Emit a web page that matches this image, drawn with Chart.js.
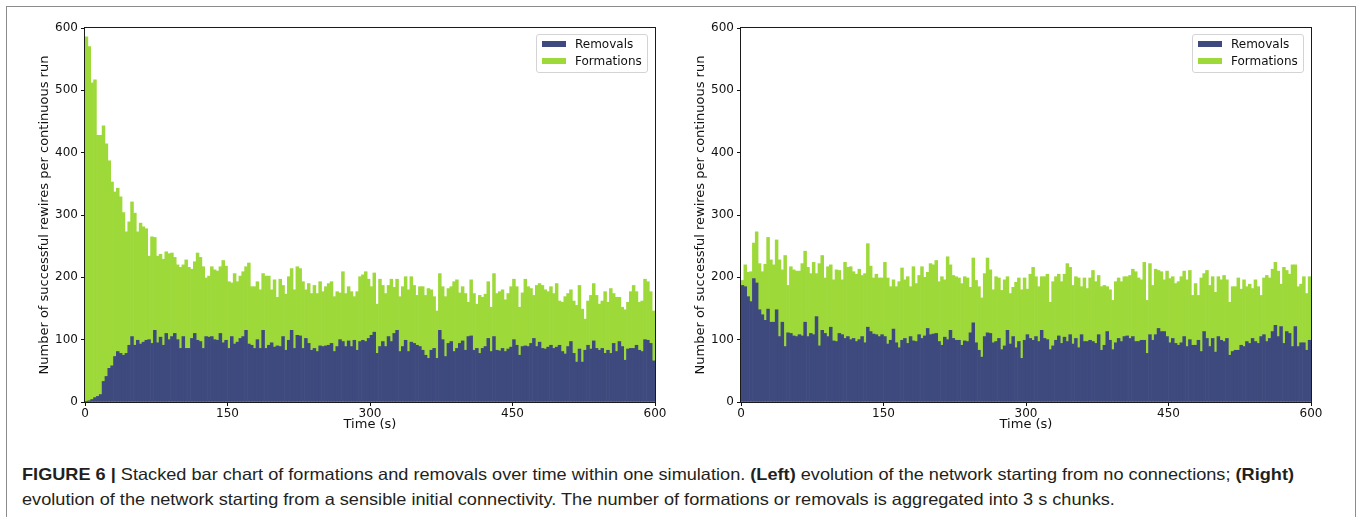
<!DOCTYPE html>
<html>
<head>
<meta charset="utf-8">
<script src="https://cdn.jsdelivr.net/npm/chart.js@4.4.1/dist/chart.umd.min.js"></script>
<style>
html,body{margin:0;padding:0;background:#fff;}
body{width:1358px;height:517px;position:relative;overflow:hidden;font-family:'DejaVu Sans',sans-serif;}
#frame{position:absolute;left:6px;top:6px;width:1350px;height:530px;border:1.5px solid #8c8c8c;border-bottom:none;box-sizing:border-box;}
canvas{position:absolute;top:0;}
.legend{position:absolute;top:34px;width:112px;height:39px;border:1px solid #d4d4d4;border-radius:3px;background:rgba(255,255,255,0.85);box-sizing:border-box;}
.legend .sw{position:absolute;left:5px;width:24px;height:6px;}
.legend .lt{position:absolute;left:38px;font:12px 'DejaVu Sans',sans-serif;color:#111;line-height:12px;white-space:nowrap;}
.cap{position:absolute;left:22px;font-family:'Liberation Sans',Arial,sans-serif;font-size:16.5px;line-height:16.5px;color:#231f20;white-space:nowrap;transform-origin:0 0;}
.cap b{font-weight:700;}
</style>
</head>
<body>
<div id="frame"></div>
<canvas id="cLeft" width="680" height="440" style="left:0px"></canvas>
<canvas id="cRight" width="680" height="440" style="left:656px"></canvas>
<div id="legLeft" class="legend" style="left:536px"></div>
<div id="legRight" class="legend" style="left:1192px"></div>
<div id="cap1" class="cap" style="top:466px"><b>FIGURE 6 |</b> Stacked bar chart of formations and removals over time within one simulation. <b>(Left)</b> evolution of the network starting from no connections; <b>(Right)</b></div>
<div id="cap2" class="cap" style="top:491px">evolution of the network starting from a sensible initial connectivity. The number of formations or removals is aggregated into 3 s chunks.</div>
<script>
// ---- categories: start time (s) of each 3 s chunk ----
const binStart = Array.from({length: 200}, (_, i) => i * 3);

// ---- series names / colours ----
const seriesNames = ['Removals', 'Formations'];
const seriesColors = ['#3e4a7e', '#9ed93a'];

// ---- axis ticks ----
const xRange = [0, 600], xStep = 150;
const yRange = [0, 600], yStep = 100;

// ---- Left panel: starting from no connections ----
const leftRemovals = [
1,2,4,7,9,12,33,41,54,58,73,81,78,75,78,91,105,91,99,93,96,99,100,94,115,95,104,91,110,100,105,110,100,86,105,86,86,102,110,99,97,86,105,104,105,100,99,110,95,99,86,105,93,96,102,105,115,93,91,86,100,86,115,86,91,95,88,90,
89,105,83,99,115,86,107,106,86,102,94,83,86,81,90,89,90,91,94,81,89,100,97,89,98,89,99,83,97,99,97,102,107,112,78,89,97,89,105,97,110,115,81,89,99,81,96,94,91,89,83,75,70,83,86,70,115,100,73,94,97,81,86,94,
98,83,105,106,83,86,78,86,89,102,81,105,83,82,86,81,85,88,100,91,75,89,90,89,94,102,89,96,86,85,88,91,86,88,91,81,77,89,97,78,64,85,64,83,91,85,98,86,83,86,78,83,78,94,81,97,89,67,85,86,86,91,83,81,100,99,94,66
];
const leftFormations = [
585,568,508,510,419,416,410,373,333,295,264,262,251,229,195,198,216,212,174,194,185,179,134,171,149,139,133,138,131,138,134,122,120,130,115,142,130,111,115,140,135,131,94,98,112,112,111,107,132,119,107,86,113,97,100,104,102,130,94,99,93,94,91,116,111,85,108,78,
108,82,90,102,99,94,110,108,107,78,96,91,101,93,103,88,95,99,99,88,88,75,112,85,87,88,70,94,104,105,112,95,78,95,79,108,90,85,82,100,74,82,88,96,102,99,105,93,80,96,102,96,112,97,83,76,91,85,96,88,88,112,110,81,
87,91,55,90,91,71,93,82,84,91,71,101,91,95,94,83,89,97,97,94,77,86,107,96,88,69,98,94,101,95,89,94,88,102,71,79,92,85,83,84,91,102,85,50,71,86,92,85,74,76,99,77,104,80,87,71,63,81,75,91,101,86,77,81,97,94,83,80
];

// ---- Right panel: starting from a sensible initial connectivity ----
const rightRemovals = [
187,185,169,161,198,191,148,140,131,149,128,128,148,105,128,89,111,110,106,105,108,106,128,105,110,108,137,90,115,110,105,120,98,97,110,108,102,105,100,102,97,100,105,95,120,113,109,108,105,108,105,93,99,117,95,87,99,102,94,105,98,97,108,102,106,118,108,109,110,
97,91,104,100,115,102,99,99,91,98,97,111,127,95,83,72,105,111,110,95,97,102,84,90,115,93,105,87,97,70,99,108,102,99,105,97,115,102,100,84,90,99,106,94,104,97,108,93,102,87,108,97,97,99,97,94,108,83,91,113,99,84,95,102,97,105,
106,102,105,97,97,99,99,78,108,99,108,118,113,113,105,95,102,94,91,95,105,89,100,91,91,99,81,113,102,89,102,80,105,99,97,102,75,81,83,83,91,89,97,94,102,97,94,105,108,97,102,113,123,105,121,94,113,110,89,121,89,95,95,83,99
];
const rightFormations = [
8,35,39,48,57,82,74,69,90,115,100,92,112,123,84,146,76,107,106,105,102,116,114,111,96,116,69,132,120,89,112,100,98,115,101,88,122,111,117,107,108,113,98,111,134,105,90,97,94,91,119,106,86,79,90,106,116,94,107,80,119,93,95,115,94,90,114,111,117,
96,110,92,133,105,101,102,100,99,103,102,73,104,100,102,95,101,120,102,85,104,97,95,106,86,81,79,105,102,110,100,73,103,117,96,88,86,99,105,76,103,102,99,99,101,125,108,94,99,112,77,102,85,100,114,99,95,102,96,72,81,79,98,97,96,96,
95,101,108,112,102,97,125,85,114,88,105,93,96,83,105,103,99,96,102,106,105,107,111,80,99,72,118,93,109,98,99,96,96,97,106,94,85,104,102,116,90,107,88,95,80,99,91,66,91,106,97,100,101,105,68,122,98,95,131,99,96,94,106,91,102
];

const FONT = "'DejaVu Sans', sans-serif";
const INK = '#111';

const framePlugin = {
  id: 'axesFrame',
  afterDatasetsDraw(chart) {
    const {ctx, chartArea: a} = chart;
    ctx.save();
    ctx.strokeStyle = '#1a1a1a';
    ctx.lineWidth = 1;
    ctx.strokeRect(Math.round(a.left) - 0.5, Math.round(a.top) - 0.5, Math.round(a.right - a.left) + 1, Math.round(a.bottom - a.top) + 1);
    ctx.restore();
  }
};

function makeChart(id, removals, formations) {
  return new Chart(document.getElementById(id), {
    type: 'bar',
    data: {
      labels: binStart,
      datasets: [
        {label: seriesNames[0], data: removals, backgroundColor: seriesColors[0], borderWidth: 0, barPercentage: 1, categoryPercentage: 1},
        {label: seriesNames[1], data: formations, backgroundColor: seriesColors[1], borderWidth: 0, barPercentage: 1, categoryPercentage: 1}
      ]
    },
    options: {
      responsive: false,
      animation: false,
      layout: {padding: {top: 28, right: 25, bottom: 0, left: 0}},
      plugins: {legend: {display: false}, tooltip: {enabled: false}},
      scales: {
        x: {type: 'category', stacked: true, display: false, offset: true},
        xt: {
          type: 'linear', position: 'bottom', min: xRange[0], max: xRange[1], offset: false,
          ticks: {stepSize: xStep, color: INK, font: {family: FONT, size: 12}, padding: 1, autoSkip: false, maxRotation: 0},
          grid: {display: true, offset: false, drawOnChartArea: false, drawTicks: true, tickLength: 4, color: INK},
          border: {display: false},
          title: {display: true, text: 'Time (s)', color: INK, font: {family: FONT, size: 13}, padding: {top: 0, bottom: 8}},
          afterFit(s) { s.height = 38; }
        },
        y: {
          stacked: true, min: yRange[0], max: yRange[1],
          ticks: {stepSize: yStep, color: INK, font: {family: FONT, size: 12}, padding: 3},
          grid: {display: true, drawOnChartArea: false, drawTicks: true, tickLength: 4, color: INK},
          border: {display: false},
          title: {display: true, text: 'Number of successful rewires per continuous run', color: INK, font: {family: FONT, size: 13}, padding: {top: 37, bottom: 0}},
          afterFit(s) { s.width = 85; }
        }
      }
    },
    plugins: [framePlugin]
  });
}

makeChart('cLeft', leftRemovals, leftFormations);
makeChart('cRight', rightRemovals, rightFormations);

function buildLegend(id) {
  const el = document.getElementById(id);
  seriesNames.forEach((name, i) => {
    const sw = document.createElement('div');
    sw.className = 'sw';
    sw.style.top = (6 + i * 17) + 'px';
    sw.style.background = seriesColors[i];
    const t = document.createElement('div');
    t.className = 'lt';
    t.style.top = (3 + i * 17) + 'px';
    t.textContent = name;
    el.appendChild(sw); el.appendChild(t);
  });
}
buildLegend('legLeft');
buildLegend('legRight');

// fit caption width to the reference
const c1 = document.getElementById('cap1'), c2 = document.getElementById('cap2');
const k = 1272 / c1.getBoundingClientRect().width;
c1.style.transform = 'scaleX(' + k + ')';
c2.style.transform = 'scaleX(' + k + ')';
</script>
</body>
</html>
